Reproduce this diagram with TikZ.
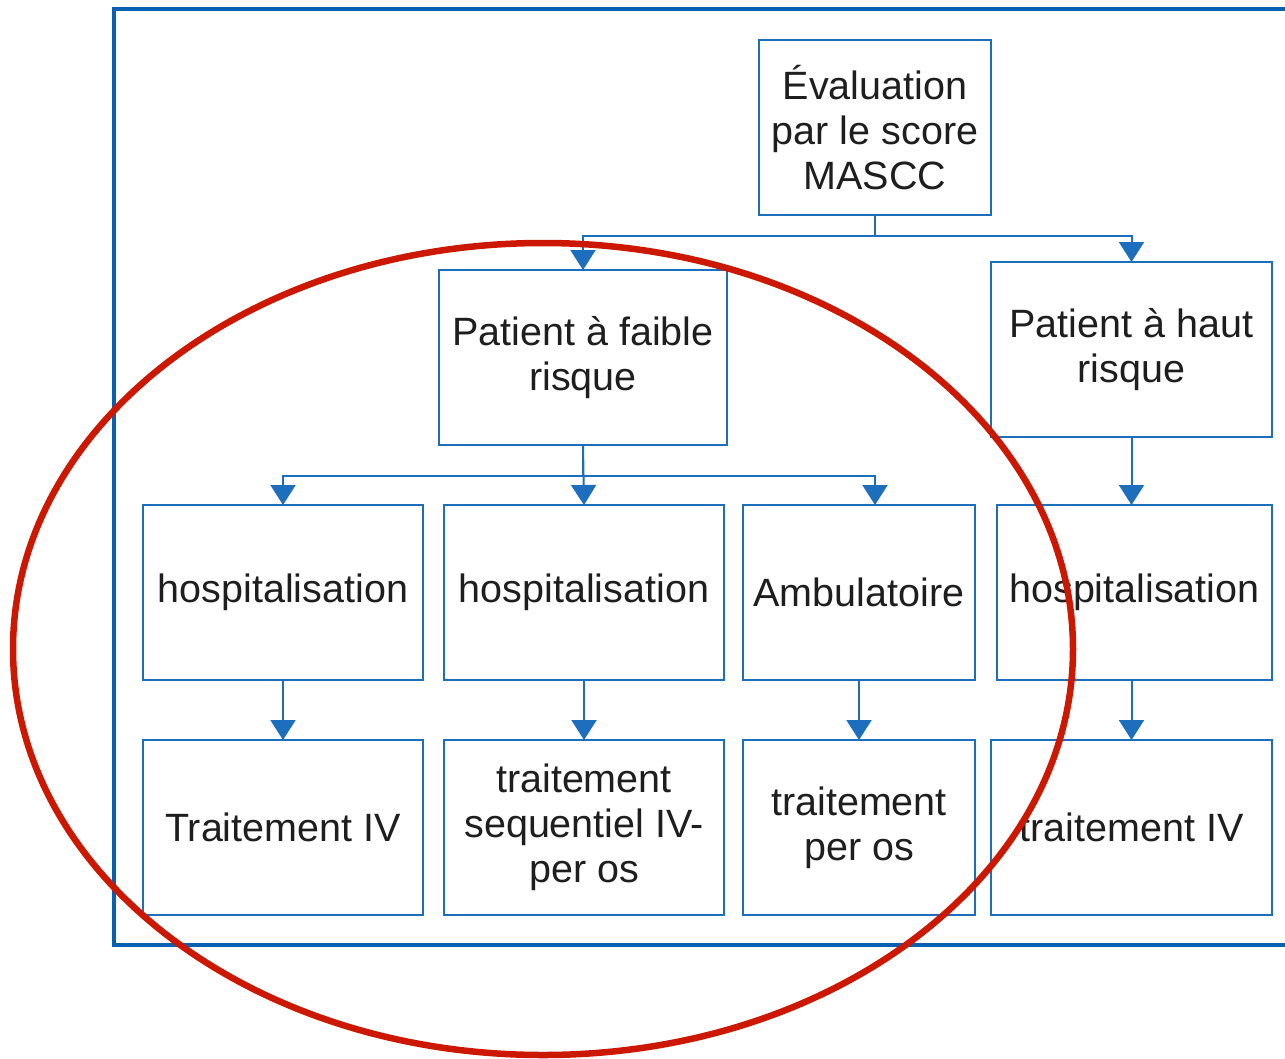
\documentclass[tikz,border=0pt]{standalone}
\usepackage{fontspec}
\setmainfont{Liberation Sans}
\usetikzlibrary{arrows.meta}
\definecolor{frameblue}{RGB}{8,96,176}
\definecolor{boxblue}{RGB}{30,110,190}
\definecolor{markred}{RGB}{204,24,0}
\definecolor{textgray}{RGB}{30,30,30}
\begin{document}
\begin{tikzpicture}[x=1pt,y=-1pt,
  box/.style={draw=boxblue, line width=2pt, fill=white, align=center,
    text=textgray, font=\fontsize{39.5}{45}\selectfont, inner sep=0pt},
  conn/.style={draw=boxblue, line width=2pt,
    -{Triangle[width=25pt,length=20pt]}, shorten >=-1pt}]
\useasboundingbox (0,0) rectangle (1285,1058);
\clip (0,0) rectangle (1285,1058);
% outer frame, open to the right edge
\draw[frameblue, line width=4pt] (1300,9) -- (114,9) -- (114,945) -- (1300,945);

% boxes
\node[box, minimum width=232pt, minimum height=175pt] (mascc) at (875,127.5)
  {Évaluation\\par le score\\MASCC};
\node[box, minimum width=288pt, minimum height=175pt] (faible) at (583,357.5)
  {Patient à faible\\risque};
\node[box, minimum width=281pt, minimum height=175pt] (haut) at (1131.5,349.5)
  {Patient à haut\\risque};

\node[box, minimum width=280pt, minimum height=175pt] (hospA) at (283,592.5)
  {hospitalisation};
\node[box, minimum width=280pt, minimum height=175pt] (hospB) at (584,592.5)
  {hospitalisation};
\node[box, minimum width=232pt, minimum height=175pt] (amb) at (859,592.5)
  {Ambulatoire};
\node[box, minimum width=275pt, minimum height=175pt] (hospC) at (1134.5,592.5)
  {hospitalisation};

\node[box, minimum width=280pt, minimum height=175pt] (tivA) at (283,827.5)
  {Traitement IV};
\node[box, minimum width=280pt, minimum height=175pt] (seq) at (584,827.5)
  {traitement\\sequentiel IV-\\per os};
\node[box, minimum width=232pt, minimum height=175pt] (peros) at (859,827.5)
  {traitement\\per os};
\node[box, minimum width=281pt, minimum height=175pt] (tivB) at (1131.5,827.5)
  {traitement IV};

% connectors
\draw[conn] (mascc.south) -- ++(0,20) -| (faible.north);
\draw[conn] (mascc.south) -- ++(0,20) -| (haut.north);
\draw[conn] (faible.south) -- ++(0,30) -| (hospA.north);
\draw[conn] (faible.south) -- (hospB.north);
\draw[conn] (faible.south) -- ++(0,30) -| ([xshift=16pt]amb.north);
\draw[conn] (haut.south) -- (haut.south |- hospC.north);
\draw[conn] (hospA.south) -- (tivA.north);
\draw[conn] (hospB.south) -- (seq.north);
\draw[conn] (amb.south) -- (peros.north);
\draw[conn] (hospC.south -| tivB.north) -- (tivB.north);

% red highlight ellipse
\draw[markred, line width=6.5pt] (543,649) ellipse [x radius=530, y radius=406];
\end{tikzpicture}
\end{document}
